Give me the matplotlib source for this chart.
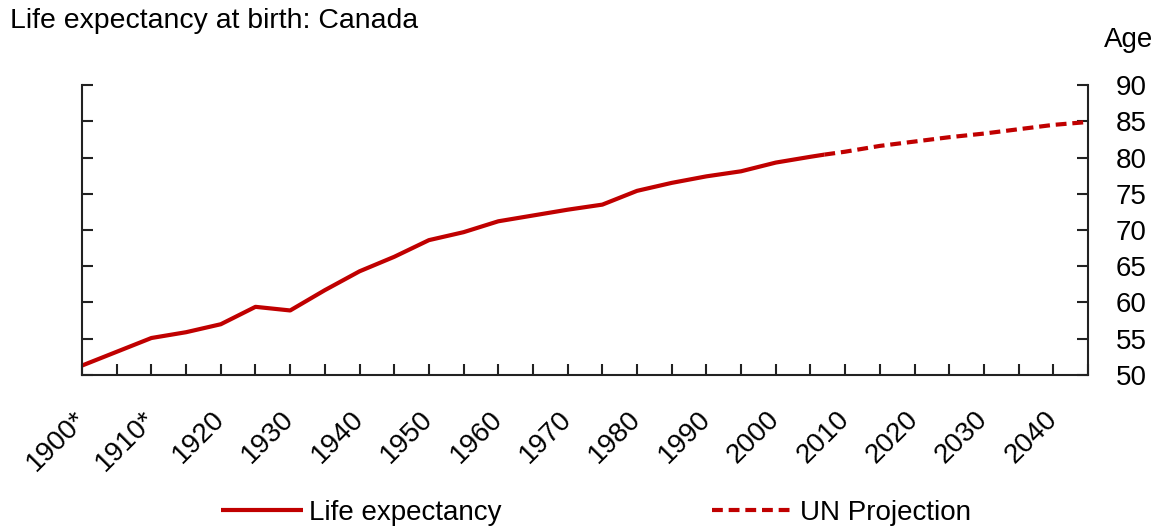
import matplotlib.pyplot as plt

plt.rcParams['font.family'] = ['Liberation Sans', 'DejaVu Sans']

# historical life expectancy (years)
hist_years = [1900, 1905, 1910, 1915, 1920, 1925, 1930, 1935, 1940, 1945, 1950,
              1955, 1960, 1965, 1970, 1975, 1980, 1985, 1990, 1995, 2000, 2005, 2007]
hist_vals = [51.3, 53.2, 55.1, 55.9, 57.0, 59.4, 58.9, 61.7, 64.3, 66.3, 68.6,
             69.7, 71.2, 72.0, 72.8, 73.5, 75.4, 76.5, 77.4, 78.1, 79.3, 80.1, 80.4]

# UN projection
proj_years = [2007, 2010, 2015, 2020, 2025, 2030, 2035, 2040, 2045]
proj_vals = [80.4, 80.8, 81.6, 82.2, 82.8, 83.3, 83.9, 84.5, 84.9]

tick_years = list(range(1900, 2046, 5))
tick_labels = []
for y in tick_years:
    if y % 10 != 0:
        tick_labels.append('')
    elif y in (1900, 1910):
        tick_labels.append(str(y) + '*')
    else:
        tick_labels.append(str(y))

red = '#C00000'
fs = 20

fig = plt.figure(figsize=(11.62, 5.30), dpi=100)
ax = fig.add_axes([0.0706, 0.2925, 0.8657, 0.5471])

ax.plot(hist_years, hist_vals, color=red, lw=3, label='Life expectancy', solid_capstyle='butt')
ax.plot(proj_years, proj_vals, color=red, lw=3, dashes=(2.6, 1.4), label='UN Projection')

ax.set_xlim(1900, 2045)
ax.set_ylim(50, 90)
ax.set_yticks(range(50, 91, 5))
ax.set_xticks(tick_years)
ax.set_xticklabels(tick_labels, rotation=45, ha='right', va='center', rotation_mode='anchor')

ax.spines['top'].set_visible(False)
for s in ['left', 'right', 'bottom']:
    ax.spines[s].set_linewidth(1.5)
    ax.spines[s].set_color('#222222')

ax.tick_params(axis='y', left=True, right=True, labelleft=False, labelright=True,
               direction='in', length=8, width=1.5, pad=20, labelsize=fs, color='#222222')
ax.tick_params(axis='x', direction='in', length=8, width=1.5, pad=29, labelsize=fs, color='#222222')

fig.text(0.009, 0.985, 'Life expectancy at birth: Canada', fontsize=20.4, ha='left', va='top')
fig.text(0.971, 0.925, 'Age', fontsize=fs, ha='center', va='center')

fig.legend(loc='center', bbox_to_anchor=(0.513, 0.032), ncol=2, frameon=False,
           fontsize=fs, handlelength=2.95, handletextpad=0.2, columnspacing=7.6)

fig.savefig('out.png', dpi=100)
